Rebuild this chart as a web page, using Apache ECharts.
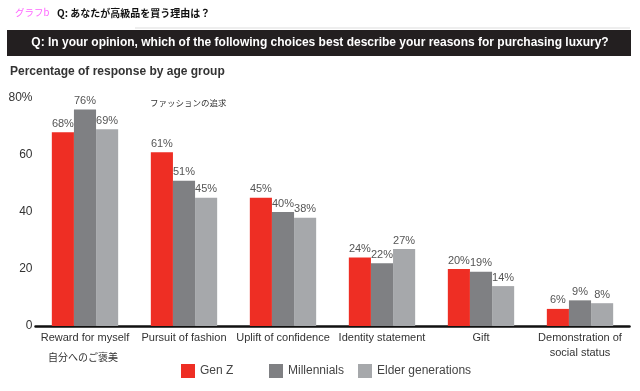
<!DOCTYPE html>
<html><head><meta charset="utf-8">
<script src="https://cdn.jsdelivr.net/npm/echarts@6/dist/echarts.min.js"></script>
<style>html,body{margin:0;padding:0;background:#fff}#c{width:640px;height:391px}</style>
</head><body><div id="c"></div>
<script>
const categories = ['Reward for myself', 'Pursuit of fashion', 'Uplift of confidence', 'Identity statement', 'Gift', 'Demonstration of\nsocial status'];
const genZ = [68, 61, 45, 24, 20, 6];
const millennials = [76, 51, 40, 22, 19, 9];
const elder = [69, 45, 38, 27, 14, 8];
const yTicks = [0, 20, 40, 60, 80];
const seriesNames = ['Gen Z', 'Millennials', 'Elder generations'];
const colors = ['#ee2e24', '#7f8083', '#a6a8ab'];

const chart = echarts.init(document.getElementById('c'), null, {renderer: 'canvas'});
const FONT = 'Liberation Sans, Arial, sans-serif';
const JFONT = 'Noto Sans CJK JP, sans-serif';

function mkSeries(name, data, color) {
  return {
    name: name, type: 'bar', data: data, barGap: '0%', barCategoryGap: '33%',
    itemStyle: {color: color},
    label: {show: true, position: 'top', distance: 3, formatter: '{c}%', color: '#555', fontSize: 11, fontFamily: FONT},
    emphasis: {disabled: true}
  };
}

const legendPos = [176, 264, 353];
chart.setOption({
  animation: false,
  textStyle: {fontFamily: FONT},
  grid: {left: 35.5, right: 10.5, top: 98, bottom: 65},
  legend: seriesNames.map((n, i) => ({
    data: [n], left: legendPos[i], top: 359, itemWidth: 14, itemHeight: 14, itemGap: 10,
    icon: 'rect', textStyle: {color: '#444', fontSize: 12, fontFamily: FONT}, selectedMode: false
  })),
  xAxis: {
    type: 'category', data: categories,
    axisLine: {lineStyle: {color: '#111', width: 2.5}},
    axisTick: {show: false},
    axisLabel: {color: '#333', fontSize: 11, margin: 4, lineHeight: 15, interval: 0, fontFamily: FONT}
  },
  yAxis: {
    type: 'value', min: 0, max: 80, interval: 20,
    axisLine: {show: false}, axisTick: {show: false}, splitLine: {show: false},
    axisLabel: {color: '#333', fontSize: 12, margin: 3, fontFamily: FONT,
      formatter: v => v === yTicks[yTicks.length - 1] ? v + '%' : String(v)}
  },
  series: [mkSeries(seriesNames[0], genZ, colors[0]), mkSeries(seriesNames[1], millennials, colors[1]), mkSeries(seriesNames[2], elder, colors[2])],
  graphic: [
    {type: 'text', left: 15, top: 8, style: {text: 'グラフb', fill: '#ff66ff', fontSize: 9.5, fontFamily: JFONT}},
    {type: 'text', left: 57, top: 8, style: {text: 'Q: あなたが高級品を買う理由は？', fill: '#111', fontSize: 10, fontWeight: 'bold', fontFamily: JFONT}},
    {type: 'line', shape: {x1: 135, y1: 28, x2: 630, y2: 28}, style: {stroke: '#ddd', lineWidth: 1}},
    {type: 'rect', shape: {x: 7, y: 30, width: 624, height: 26}, style: {fill: '#231f20'}},
    {type: 'text', x: 320, y: 43, style: {text: 'Q: In your opinion, which of the following choices best describe your reasons for purchasing luxury?', fill: '#fff', fontSize: 12, fontWeight: 'bold', fontFamily: FONT, align: 'center', verticalAlign: 'middle'}},
    {type: 'text', left: 10, top: 66, style: {text: 'Percentage of response by age group', fill: '#333', fontSize: 12, fontWeight: 'bold', fontFamily: FONT}},
    {type: 'text', left: 150, top: 99, style: {text: 'ファッションの追求', fill: '#333', fontSize: 8.5, fontFamily: JFONT}},
    {type: 'text', left: 48, top: 352, style: {text: '自分へのご褒美', fill: '#333', fontSize: 10, fontFamily: JFONT}}
  ]
});
</script></body></html>
